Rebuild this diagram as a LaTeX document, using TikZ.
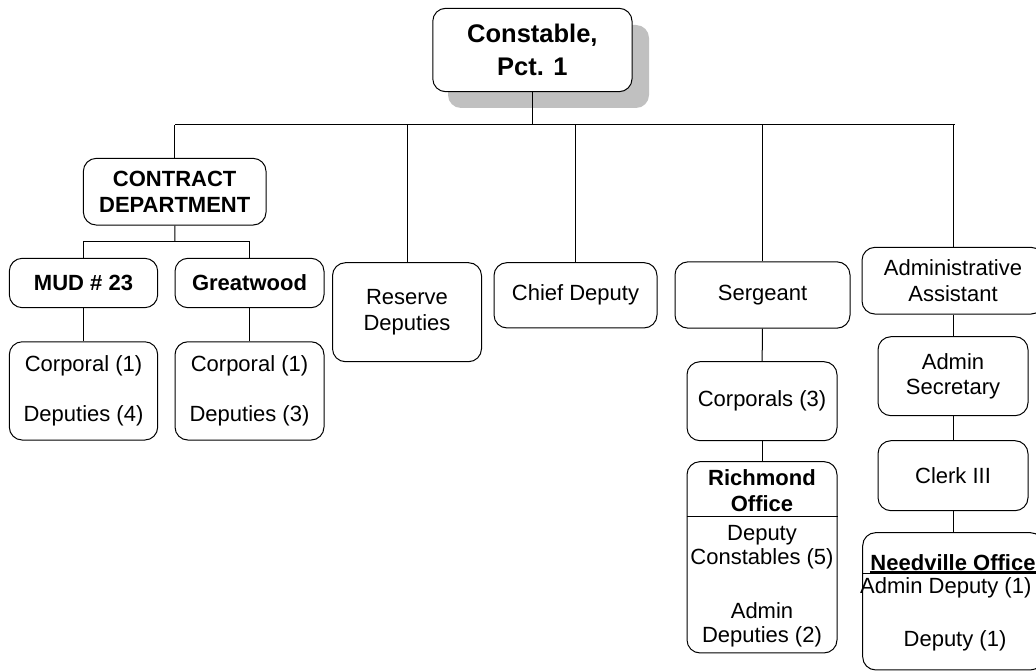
\documentclass[tikz,border=0pt]{standalone}
\usepackage{fontspec}
\setmainfont{Liberation Sans}
\definecolor{shadowgray}{RGB}{192,192,192}
\begin{document}
\begin{tikzpicture}[x=1pt,y=-1pt,
  box/.style={draw, line width=1pt, rounded corners=13pt, inner sep=0pt,
    align=center, font=\fontsize{22}{25.5}\selectfont},
  bbox/.style={box, font=\bfseries\fontsize{22}{25.5}\selectfont},
  size/.style 2 args={minimum width=#1pt, minimum height=#2pt},
  txt/.style={inner sep=0pt, anchor=base, font=\fontsize{22}{25.5}\selectfont},
  btxt/.style={txt, font=\bfseries\fontsize{22}{25.5}\selectfont},
  wire/.style={line width=1pt}]
\useasboundingbox (0,0) rectangle (1036,671);

% head of the chart with its drop shadow
\node[fill=shadowgray, rounded corners=13pt, inner sep=0pt, size={201}{83}] (topshadow) at (548.5,66.5) {};
\node[bbox, fill=white, font=\bfseries\fontsize{25.5}{33}\selectfont, size={199.3}{83.4}] (top) at (532.4,50) {Constable,\\Pct. 1};

% main bus
\coordinate (busL) at (175,125);
\coordinate (busR) at (955,125);

% contract branch
\node[bbox, size={182.7}{66.7}] (contract) at (174.7,191.7) {CONTRACT\\DEPARTMENT};
\node[bbox, size={148.4}{49.4}] (mud) at (83.5,283) {MUD \# 23};
\node[bbox, size={149}{49.4}] (great) at (249.5,283) {Greatwood};
\node[box, size={148.4}{98.3}] (mudcrew) at (83.5,390.9) {Corporal (1)\\[24.5pt]Deputies (4)};
\node[box, size={149}{98.3}] (greatcrew) at (249.5,390.9) {Corporal (1)\\[24.5pt]Deputies (3)};
\coordinate (contractfork) at (175,241.5);

% middle branches
\node[box, size={149}{99}] (reserve) at (407,312.2) {Reserve\\Deputies};
\node[box, size={163}{65.3}] (chief) at (575.5,295.3) {Chief Deputy};

% sergeant branch
\node[box, size={175}{66.3}] (sergeant) at (762.5,295) {Sergeant};
\node[box, size={150}{79}] (corporals) at (762,401.2) {Corporals (3)};
\node[draw, line width=1pt, rounded corners=13pt, inner sep=0pt, size={150}{191.3}] (richbox) at (762,557.3) {};
\node[btxt] (richA) at (762,485) {Richmond};
\node[btxt] (richB) at (762,511) {Office};
\node[txt] (richC) at (762,540) {Deputy};
\node[txt] (richD) at (762,564) {Constables (5)};
\node[txt] (richE) at (762,618) {Admin};
\node[txt] (richF) at (762,642.5) {Deputies (2)};

% administration branch
\node[box, size={182}{66.7}] (adminasst) at (953,280.7) {Administrative\\Assistant};
\node[box, size={150}{79}] (adminsec) at (953,376.2) {Admin\\Secretary};
\node[box, size={150}{70}] (clerk) at (953,475.7) {Clerk III};
\node[draw, line width=1pt, rounded corners=13pt, inner sep=0pt, size={180.6}{137.3}] (needbox) at (953,601.3) {};
\node[btxt] (needA) at (953,570) {Needville Office};
\node[txt, anchor=base west] (needB) at (860,593) {Admin Deputy (1)};
\node[txt] (needC) at (955,646) {Deputy (1)};

% connectors
\draw[wire] (busL) -- (busR);
\draw[wire] (top) -- (top.south |- busL);
\draw[wire] (contract) -- (contract.north |- busL);
\draw[wire] (reserve) -- (reserve.north |- busL);
\draw[wire] (chief) -- (chief.north |- busL);
\draw[wire] (sergeant) -- (sergeant.north |- busL);
\draw[wire] (adminasst) -- (adminasst.north |- busR);
\draw[wire] (contract) -- (contractfork);
\draw[wire] (mud.north) |- (contractfork) -| (great.north);
\draw[wire] (mud) -- (mudcrew);
\draw[wire] (great) -- (greatcrew);
\draw[wire] (sergeant) -- (corporals);
\draw[wire] (corporals) -- (richbox);
\draw[wire] (adminasst) -- (adminsec);
\draw[wire] (adminsec) -- (clerk);
\draw[wire] (clerk) -- (needbox);

% section rules inside the office boxes
\draw[wire] (richbox.west |- 0,516) -- (richbox.east |- 0,516);
\draw[wire] (needbox.west |- 0,573.5) -- (needbox.east |- 0,573.5);
\draw[line width=1.2pt] ([yshift=-2pt]needA.base west) -- ([yshift=-2pt]needA.base east);
\end{tikzpicture}
\end{document}
